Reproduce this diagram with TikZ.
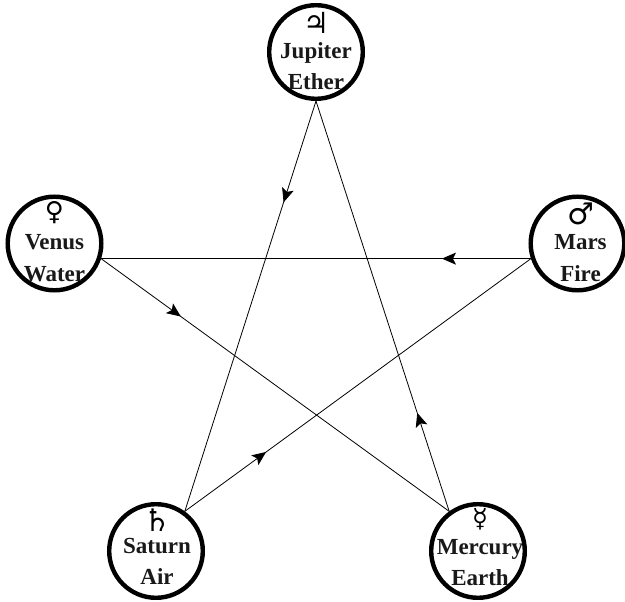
\documentclass[tikz,border=0pt]{standalone}
\usepackage{fontspec}
\setmainfont{Liberation Serif}
\newfontfamily\symfont{DejaVu Sans}
\usetikzlibrary{arrows.meta,decorations.markings}
\tikzset{
  planet/.style={circle,draw=black,line width=4.4pt,fill=white,minimum size=93.6pt,inner sep=0pt},
  label text/.style={font=\fontsize{23}{23}\selectfont\bfseries,anchor=base,inner sep=0pt,text=black!90},
  sym text/.style={font=\symfont,anchor=center,inner sep=0pt},
  link/.style={line width=0.8pt,black,postaction={decorate},decoration={markings,
    mark=at position #1 with {\arrow{Stealth[length=14pt,width=12pt,inset=3pt]}}}},
}
\newcommand{\lblshift}{0}
\newcommand{\planetnode}[9]{%
  \node[planet] (#1) at (#2,#3) {};
  \node[sym text] (#1sym) at (#2+\lblshift,#4) {\fontsize{#9}{#9}\selectfont #5};
  \node[label text] (#1a) at (#2+\lblshift,#8) {#6};
  \node[label text] (#1b) at ([yshift=-31pt]#1a.base) {#7};
}
\begin{document}
\begin{tikzpicture}[x=1pt,y=-1pt]
\useasboundingbox (0,0) rectangle (625,602);
\planetnode{jup}{316}{52}{23}{♃}{Jupiter}{Ether}{59}{29}
\planetnode{ven}{54.5}{243.5}{213}{♀}{Venus}{Water}{250}{26}
\renewcommand{\lblshift}{3}
\planetnode{mar}{577.5}{243.5}{214}{♂}{Mars}{Fire}{250}{30}
\renewcommand{\lblshift}{1}
\planetnode{sat}{156}{551}{520}{♄}{Saturn}{Air}{553.5}{31}
\renewcommand{\lblshift}{2}
\planetnode{mer}{478}{551}{519}{☿}{Mercury}{Earth}{554.5}{26}
\draw[link=0.247] (jup.south) -- (sat.54);
\draw[link=0.235] (sat.54) -- (mar.198);
\draw[link=0.207] (mar.198) -- (ven.-18);
\draw[link=0.229] (ven.-18) -- (mer.126);
\draw[link=0.24] (mer.126) -- (jup.south);
\end{tikzpicture}
\end{document}
